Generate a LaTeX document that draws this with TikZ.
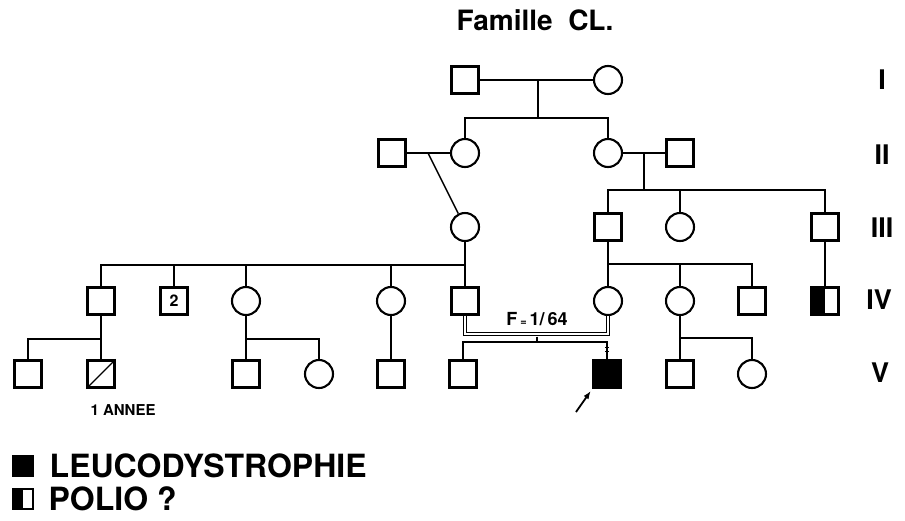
\documentclass[tikz,border=0pt]{standalone}
\usepackage{fontspec}
\setsansfont{TeX Gyre Heros}
\usetikzlibrary{positioning,arrows.meta}
\tikzset{
  male/.style={draw, line width=2.1pt, minimum size=27pt, inner sep=0pt},
  female/.style={draw, circle, line width=2.1pt, minimum size=28pt, inner sep=0pt},
  link/.style={line width=1.4pt},
  gen/.style={font=\sffamily\bfseries\fontsize{27}{27}\selectfont},
  polio/.style={path picture={\fill (path picture bounding box.south west) rectangle (path picture bounding box.north);}},
}

\begin{document}
\begin{tikzpicture}[x=1pt, y=-1pt]
\useasboundingbox (0,0) rectangle (905,520);

\node (title) at (535,20) [font=\sffamily\bfseries\fontsize{28}{28}\selectfont] {Famille\ \ CL.};

\node (i_m) at (465,80) [male] {};
\node (i_f) at (608,80) [female] {};

\node (ii_m1) at (392,153) [male] {};
\node (ii_f1) at (465,153) [female] {};
\node (ii_f2) at (608,153) [female] {};
\node (ii_m2) at (680,153) [male] {};

\node (iii_f1) at (465,227) [female] {};
\node (iii_m1) at (608,227) [male] {};
\node (iii_f2) at (680,227) [female] {};
\node (iii_m2) at (825,227) [male] {};

\node (iv_m1) at (101,301) [male] {};
\node (iv_m2) at (174,301) [male, font=\sffamily\bfseries\fontsize{16}{16}\selectfont] {2};
\node (iv_f1) at (246,301) [female] {};
\node (iv_f2) at (391,301) [female] {};
\node (iv_m3) at (465,301) [male] {};
\node (iv_f3) at (608,301) [female] {};
\node (iv_f4) at (680,301) [female] {};
\node (iv_m4) at (752,301) [male] {};
\node (iv_m5) at (825,301) [male, polio] {};

\node (v_m1) at (28,374) [male] {};
\node (v_m2) at (101,374) [male] {};
\node (v_m3) at (246,374) [male] {};
\node (v_f1) at (319,374) [female] {};
\node (v_m4) at (391,374) [male] {};
\node (v_m5) at (463,374) [male] {};
\node (v_m6) at (607,374) [male, fill=black] {};
\node (v_m7) at (680,374) [male] {};
\node (v_f2) at (752,374) [female] {};

\draw [link] (v_m2.south west) -- (v_m2.north east);
\node (annee) at (87,410) [anchor=west, font=\sffamily\bfseries\fontsize{15}{15}\selectfont] {1 ANNEE};

\coordinate (i_mar) at (538,80);
\coordinate (i_sib) at (538,118);
\draw [link] (i_m) -- (i_f);
\draw [link] (i_mar) -- (i_sib);
\draw [link] (ii_f1) |- (i_sib) -| (ii_f2);

\coordinate (ii_mar1) at (428,153);
\draw [link] (ii_m1) -- (ii_f1);
\draw [link] (ii_mar1) -- (iii_f1);

\coordinate (ii_mar2) at (644,153);
\coordinate (ii_sib2) at (644,190);
\draw [link] (ii_f2) -- (ii_m2);
\draw [link] (ii_mar2) -- (ii_sib2);
\draw [link] (iii_m1) -- (iii_m1 |- ii_sib2) -- (iii_m2 |- ii_sib2) -- (iii_m2);
\draw [link] (iii_f2) -- (iii_f2 |- ii_sib2);

\coordinate (iv_sib1) at (0,265);
\draw [link] (iii_f1) -- (iv_m3);
\draw [link] (iv_m1) -- (iv_m1 |- iv_sib1) -- (iv_m3 |- iv_sib1);
\draw [link] (iv_m2) -- (iv_m2 |- iv_sib1);
\draw [link] (iv_f1) -- (iv_f1 |- iv_sib1);
\draw [link] (iv_f2) -- (iv_f2 |- iv_sib1);

\coordinate (iv_sib2) at (0,264);
\draw [link] (iii_m1) -- (iv_f3);
\draw [link] (iv_f3 |- iv_sib2) -- (iv_m4 |- iv_sib2) -- (iv_m4);
\draw [link] (iv_f4) -- (iv_f4 |- iv_sib2);
\draw [link] (iii_m2) -- (iv_m5);

\coordinate (cons) at (537,334);
\coordinate (cons_mar) at (537,336.5);
\coordinate (v_sib3) at (537,342);
\draw [line width=1.1pt, double, double distance=2.4pt] (iv_m3) |- (cons) -| (iv_f3);
\node (f_coef) at (537,319) [font=\sffamily\bfseries\fontsize{18}{18}\selectfont] {F\,{\fontsize{11}{11}\selectfont=}\,1/\,64};
\draw [link] (cons_mar) -- (v_sib3);
\draw [link] (v_m5) |- (v_sib3) -| (v_m6);
\draw [line width=0.9pt] ([xshift=-2pt, yshift=12.5pt]v_m6.north) -- ++(4pt,0);
\draw [line width=0.9pt] ([xshift=-2pt, yshift=8.5pt]v_m6.north) -- ++(4pt,0);
\coordinate (pb_tail) at (576,412);
\draw [-{Latex[length=8pt, width=6pt]}, line width=1.8pt, shorten >=3pt] (pb_tail) -- (v_m6.south west);

\coordinate (v_sib1) at (0,339);
\draw [link] (iv_m1) -- (v_m2);
\draw [link] (v_m1) -- (v_m1 |- v_sib1) -- (v_m2 |- v_sib1);
\draw [link] (iv_f1) -- (v_m3);
\draw [link] (v_m3 |- v_sib1) -- (v_f1 |- v_sib1) -- (v_f1);
\draw [link] (iv_f2) -- (v_m4);

\coordinate (v_sib4) at (0,338);
\draw [link] (iv_f4) -- (v_m7);
\draw [link] (v_m7 |- v_sib4) -- (v_f2 |- v_sib4) -- (v_f2);

\node (gen_i) at (882,80) [gen] {I};
\node (gen_ii) at (882,155) [gen] {II};
\node (gen_iii) at (882,228) [gen] {III};
\node (gen_iv) at (879,300) [gen] {IV};
\node (gen_v) at (880,373) [gen] {V};

\node (leg_aff) at (23,466) [fill=black, minimum size=22pt, inner sep=0pt] {};
\node (leg_aff_txt) at (leg_aff.east) [anchor=west, xshift=12pt, font=\sffamily\bfseries\fontsize{32}{32}\selectfont] {LEUCODYSTROPHIE};
\node (leg_pol) at (23,499) [draw, line width=2.1pt, polio, minimum size=20pt, inner sep=0pt] {};
\node (leg_pol_txt) at (leg_pol.east) [anchor=west, xshift=11pt, font=\sffamily\bfseries\fontsize{32}{32}\selectfont] {POLIO ?};

\end{tikzpicture}
\end{document}
